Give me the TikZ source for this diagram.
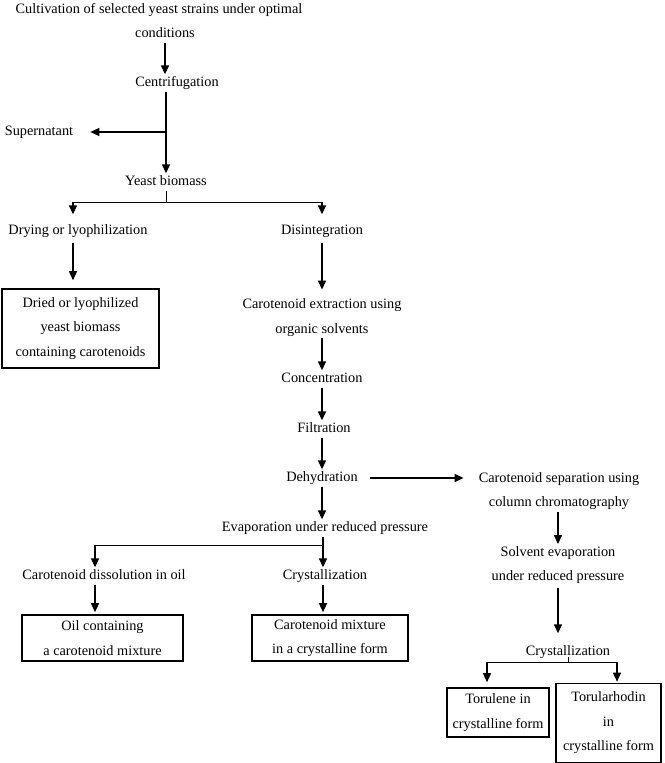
\documentclass[tikz,border=0pt]{standalone}
\usepackage{fontspec}
\setmainfont{Liberation Serif}
\usetikzlibrary{arrows.meta}

\tikzset{
  txt/.style={inner sep=2pt, align=center, font=\fontsize{14.3}{24.5}\selectfont},
  stage/.style={txt, text height=10pt, text depth=3pt},
  resultbox/.style={txt, draw, line width=1.6pt},
  arr/.style={-{Triangle[length=9pt,width=8pt]}, line width=1.4pt},
  splitline/.style={line width=0.9pt}
}

\begin{document}
\begin{tikzpicture}[x=1pt,y=-1pt]
  \useasboundingbox (0,0) rectangle (664,763);
  % Upstream steps
  \node[stage] (cult) at (159,10) {Cultivation of selected yeast strains under optimal};
  \node[stage] (cond) at (165,34) {conditions};
  \node[stage] (centr) at (177,83) {Centrifugation};
  \node[stage] (super) at (39,132) {Supernatant};
  \node[stage] (yeast) at (166,182) {Yeast biomass};
  \node[stage] (drying) at (78,231) {Drying or lyophilization};
  \node[stage] (disint) at (322,231) {Disintegration};
  \node[resultbox, minimum width=157pt, minimum height=79pt] (dried) at (80.5,328.5)
    {Dried or lyophilized\\yeast biomass\\containing carotenoids};
  % Extraction line
  \node[txt] (extr) at (322,317.5) {Carotenoid extraction using\\organic solvents};
  \node[stage] (conc) at (322,379) {Concentration};
  \node[stage] (filt) at (324,429) {Filtration};
  \node[stage] (dehyd) at (322,478) {Dehydration};
  \node[stage] (evap) at (325,528) {Evaporation under reduced pressure};
  \node[stage] (dissol) at (104,576) {Carotenoid dissolution in oil};
  \node[stage] (cryst1) at (325,576) {Crystallization};
  \node[resultbox, minimum width=161pt, minimum height=46pt] (oilbox) at (102.5,638)
    {Oil containing\\a carotenoid mixture};
  \node[resultbox, minimum width=156pt, minimum height=46pt] (mixbox) at (330,638)
    {Carotenoid mixture\\in a crystalline form};
  % Chromatography line
  \node[txt] (sep) at (559,491) {Carotenoid separation using\\column chromatography};
  \node[txt] (solv) at (558,565) {Solvent evaporation\\under reduced pressure};
  \node[stage] (cryst2) at (568,652) {Crystallization};
  \node[resultbox, minimum width=102pt, minimum height=49pt] (torbox) at (498,712.5)
    {Torulene in\\crystalline form};
  \node[resultbox, minimum width=105pt, minimum height=79pt] (rhobox) at (608.5,723)
    {Torularhodin\\in\\crystalline form};

  % Connectors, top part
  \draw[arr] (cond.south) -- (cond.south |- centr.north);
  \draw[arr] (yeast.north |- centr.south) -- (yeast.north);
  \draw[arr, shorten >=15pt] (yeast.north |- super.east) -- (super.east);
  \coordinate (yl) at (73,202);
  \coordinate (yr) at (322,202);
  \draw[splitline] (yeast.south) -- (yeast.south |- yr);
  \draw[splitline] (yl) -- (yr);
  \draw[arr, shorten >=8pt] (yl) -- (yl |- drying.north);
  \draw[arr, shorten >=8pt] (yr) -- (disint.north);
  \draw[arr, shorten <=3pt, shorten >=8pt] (yl |- drying.south) -- (yl |- dried.north);
  \draw[arr, shorten <=3pt, shorten >=7pt] (disint.south) -- (disint.south |- extr.north);
  % Connectors, middle part
  \draw[arr] (extr.south) -- (conc.north);
  \draw[arr] (conc.south) -- (conc.south |- filt.north);
  \draw[arr] (dehyd.north |- filt.south) -- (dehyd.north);
  \draw[arr, shorten <=10pt, shorten >=13pt] (dehyd.east) -- (dehyd.east -| sep.west);
  \draw[arr] (dehyd.south) -- (dehyd.south |- evap.north);
  \coordinate (el) at (95,545);
  \coordinate (er) at (323,545);
  \draw[splitline] (el) -- (er);
  \draw[arr] (er |- evap.south) -- (er |- cryst1.north);
  \draw[arr] (el) -- (el |- dissol.north);
  \draw[arr, shorten >=2pt] (el |- dissol.south) -- (el |- oilbox.north);
  \draw[arr, shorten >=2pt] (er |- cryst1.south) -- (er |- mixbox.north);
  % Connectors, right part
  \draw[arr] (sep.south -| solv.north) -- (solv.north);
  \draw[arr, shorten <=2pt, shorten >=10pt] (solv.south) -- (solv.south |- cryst2.north);
  \coordinate (cl) at (487,662);
  \coordinate (cr) at (617,662);
  \draw[splitline] ([yshift=4pt]cryst2.south) -- (cryst2.south |- cl);
  \draw[splitline] (cl) -- (cr);
  \draw[arr, shorten >=5pt] (cl) -- (cl |- torbox.north);
  \draw[arr, shorten >=1pt] (cr) -- (cr |- rhobox.north);
\end{tikzpicture}
\end{document}
